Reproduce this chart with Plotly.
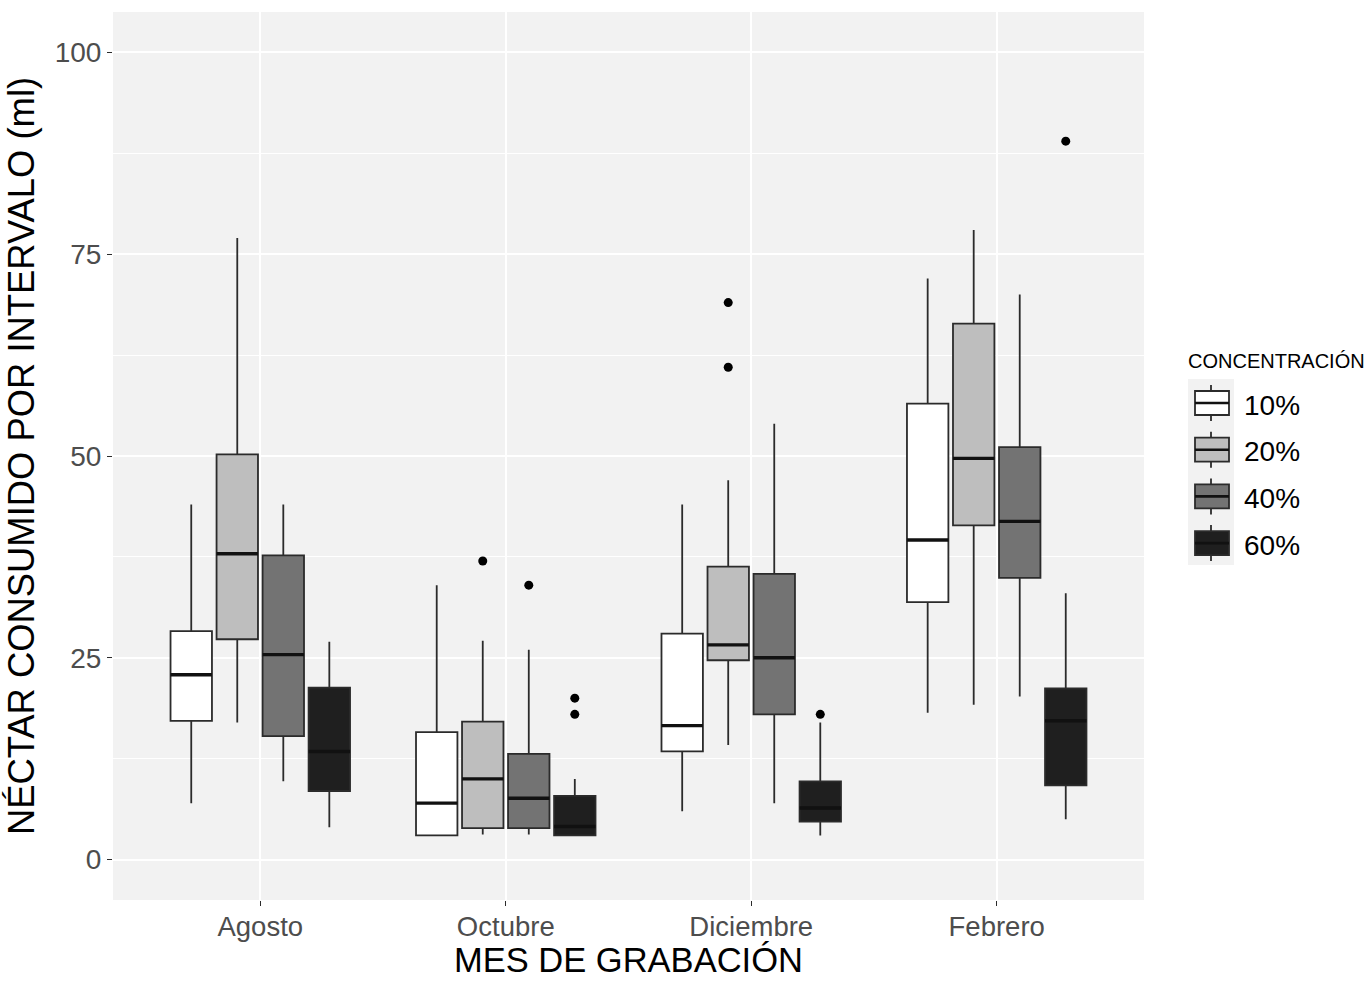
import plotly.graph_objects as go

# Nectar consumed per interval (ml), summarised per recording month and sugar concentration
months = ["Agosto", "Octubre", "Diciembre", "Febrero"]
concentrations = ["10%", "20%", "40%", "60%"]

lower_whisker = {
    "10%": [7.0, 3.0, 6.0, 18.2],
    "20%": [17.0, 3.1, 14.2, 19.2],
    "40%": [9.7, 3.1, 7.0, 20.2],
    "60%": [4.0, 3.0, 3.0, 5.0],
}
q1 = {
    "10%": [17.2, 3.0, 13.4, 31.9],
    "20%": [27.3, 3.9, 24.7, 41.4],
    "40%": [15.3, 3.9, 18.0, 34.9],
    "60%": [8.5, 3.0, 4.7, 9.2],
}
median = {
    "10%": [22.9, 7.0, 16.6, 39.6],
    "20%": [37.9, 10.0, 26.6, 49.7],
    "40%": [25.4, 7.6, 25.0, 41.9],
    "60%": [13.4, 4.1, 6.4, 17.2],
}
q3 = {
    "10%": [28.3, 15.8, 28.0, 56.5],
    "20%": [50.2, 17.1, 36.3, 66.4],
    "40%": [37.7, 13.1, 35.4, 51.1],
    "60%": [21.3, 7.9, 9.7, 21.2],
}
upper_whisker = {
    "10%": [44.0, 34.0, 44.0, 72.0],
    "20%": [77.0, 27.1, 47.0, 78.0],
    "40%": [44.0, 26.0, 54.0, 70.0],
    "60%": [27.0, 10.0, 17.0, 33.0],
}
# Outlying observations: (month, concentration, value)
outliers = [
    ("Octubre", "20%", 37.0),
    ("Octubre", "40%", 34.0),
    ("Octubre", "60%", 20.0),
    ("Octubre", "60%", 18.0),
    ("Diciembre", "20%", 69.0),
    ("Diciembre", "20%", 61.0),
    ("Diciembre", "60%", 18.0),
    ("Febrero", "60%", 89.0),
]

fills = {"10%": "#FFFFFF", "20%": "#BEBEBE", "40%": "#737373", "60%": "#1F1F1F"}
EDGE = "#2B2B2B"
FONT = "Liberation Sans, Arial, sans-serif"
TEXT_SIZE = 27.5

# dodge layout: 0.75 of each category slot, boxes take 90% of their sub-slot
DODGE = 0.75
SLOT = DODGE / len(concentrations)
BOX_W = SLOT * 0.9
offsets = {c: -DODGE / 2 + SLOT * (i + 0.5) for i, c in enumerate(concentrations)}
month_pos = {m: i + 1 for i, m in enumerate(months)}

fig = go.Figure()

for c in concentrations:
    xs = [month_pos[m] + offsets[c] for m in months]
    fig.add_trace(go.Box(
        x=xs,
        q1=q1[c], median=median[c], q3=q3[c],
        lowerfence=lower_whisker[c], upperfence=upper_whisker[c],
        width=BOX_W,
        whiskerwidth=0,
        fillcolor=fills[c],
        line=dict(color=EDGE, width=1.8),
        boxpoints=False,
        name=c,
        showlegend=False,
        hoverinfo="skip",
    ))

# thicker median bars
for c in concentrations:
    mx, my = [], []
    for m, med in zip(months, median[c]):
        x0 = month_pos[m] + offsets[c]
        mx += [x0 - BOX_W / 2, x0 + BOX_W / 2, None]
        my += [med, med, None]
    fig.add_trace(go.Scatter(
        x=mx, y=my, mode="lines",
        line=dict(color="#111111", width=3.4),
        showlegend=False, hoverinfo="skip",
    ))

fig.add_trace(go.Scatter(
    x=[month_pos[m] + offsets[c] for m, c, _ in outliers],
    y=[v for _, _, v in outliers],
    mode="markers",
    marker=dict(color="black", size=9),
    showlegend=False, hoverinfo="skip",
))

# layout geometry (pixels)
W, H = 1366, 982
ML, MR, MT, MB = 113, 222, 12, 82
PW, PH = W - ML - MR, H - MT - MB


def px_x(px):
    return (px - ML) / PW


def px_y(py):
    return (H - MB - py) / PH


shapes = []
annotations = []

# x-axis title, sitting on the bottom edge of the page
annotations.append(dict(text="MES DE GRABACIÓN", xref="paper", yref="paper",
                        x=px_x(628), y=px_y(981), xanchor="center", yanchor="bottom",
                        showarrow=False, font=dict(family=FONT, size=34.5, color="black")))

# legend: grey key background, box glyphs and labels
shapes.append(dict(type="rect", xref="paper", yref="paper",
                   x0=px_x(1188), x1=px_x(1234), y0=px_y(565), y1=px_y(379),
                   fillcolor="#F2F2F2", line=dict(width=0), layer="below"))
annotations.append(dict(text="CONCENTRACIÓN", xref="paper", yref="paper",
                        x=px_x(1186), y=px_y(361), xanchor="left", yanchor="middle",
                        showarrow=False, font=dict(family=FONT, size=20, color="black")))
for i, c in enumerate(concentrations):
    cy = 403 + i * 46.7
    shapes.append(dict(type="line", xref="paper", yref="paper",
                       x0=px_x(1211), x1=px_x(1211), y0=px_y(cy - 18), y1=px_y(cy + 18),
                       line=dict(color=EDGE, width=1.8)))
    shapes.append(dict(type="rect", xref="paper", yref="paper",
                       x0=px_x(1195), x1=px_x(1229), y0=px_y(cy + 12), y1=px_y(cy - 12),
                       fillcolor=fills[c], line=dict(color=EDGE, width=1.8)))
    shapes.append(dict(type="line", xref="paper", yref="paper",
                       x0=px_x(1195), x1=px_x(1229), y0=px_y(cy), y1=px_y(cy),
                       line=dict(color="#111111", width=2.6)))
    annotations.append(dict(text=c, xref="paper", yref="paper",
                            x=px_x(1242), y=px_y(cy + 2), xanchor="left", yanchor="middle",
                            showarrow=False, font=dict(family=FONT, size=28, color="black")))

fig.update_layout(
    width=W, height=H,
    margin=dict(l=ML, r=MR, t=MT, b=MB),
    paper_bgcolor="white",
    plot_bgcolor="#F2F2F2",
    showlegend=False,
    boxmode="overlay",
    font=dict(family=FONT),
    shapes=shapes,
    annotations=annotations,
    xaxis=dict(
        range=[0.4, 4.6],
        tickmode="array",
        tickvals=[month_pos[m] for m in months],
        ticktext=months,
        showgrid=True, gridcolor="white", gridwidth=1.6,
        zeroline=False,
        ticks="outside", ticklen=5, tickwidth=1.4, tickcolor=EDGE,
        ticklabelstandoff=-3,
        tickfont=dict(family=FONT, size=TEXT_SIZE, color="#4D4D4D"),
        automargin=False,
        showline=False,
    ),
    yaxis=dict(
        range=[-5, 105],
        tickmode="array",
        tickvals=[0, 25, 50, 75, 100],
        showgrid=True, gridcolor="white", gridwidth=1.6,
        minor=dict(tickmode="array", tickvals=[12.5, 37.5, 62.5, 87.5],
                   showgrid=True, gridcolor="white", gridwidth=0.8, ticks=""),
        zeroline=False,
        ticks="outside", ticklen=5, tickwidth=1.4, tickcolor=EDGE,
        tickfont=dict(family=FONT, size=28, color="#4D4D4D"),
        title=dict(text="NÉCTAR CONSUMIDO POR INTERVALO (ml)", standoff=8,
                   font=dict(family=FONT, size=36.4, color="black")),
        automargin=False,
        showline=False,
    ),
)

fig.write_html("out.html")
